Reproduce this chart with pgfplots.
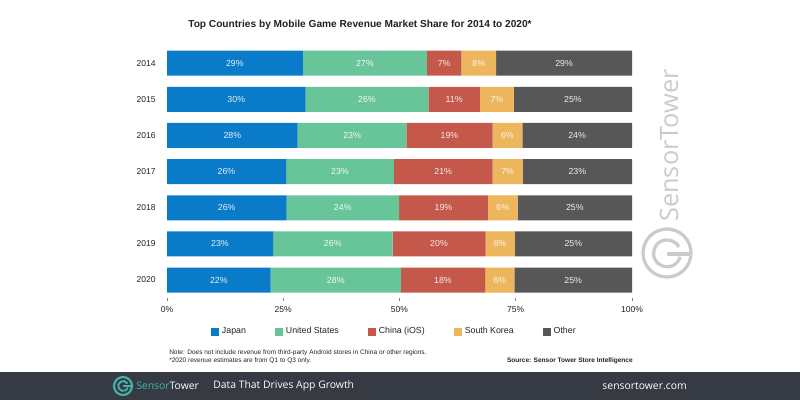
\documentclass[border=0pt]{standalone}
\usepackage{pgfplots}
\pgfplotsset{compat=1.18}
\usepackage{pgfplotstable}
\usepackage{fontspec}
\setmainfont{Liberation Sans}
\newfontfamily\osans{Open Sans}
\definecolor{cJP}{HTML}{0A7BC9}
\definecolor{cUS}{HTML}{68C59A}
\definecolor{cCN}{HTML}{C4584A}
\definecolor{cKR}{HTML}{EDB55C}
\definecolor{cOT}{HTML}{575757}
\definecolor{cFoot}{HTML}{363A42}
\definecolor{cTeal}{HTML}{45B3AC}
\definecolor{cWM}{HTML}{CBCBCB}
\definecolor{cTxt}{HTML}{222222}
\pgfplotstableread{
idx ja jal us usl cn cnl kr krl ot otl
0 29.2 29 26.7 27 7.4 7 7.5 8 29.2 29
1 29.8 30 26.4 26 11.1 11 7.3 7 25.4 25
2 28.1 28 23.4 23 18.5 19 6.4 6 23.6 24
3 25.6 26 23.2 23 21.2 21 6.5 7 23.5 23
4 25.7 26 24.2 24 19.1 19 6.4 6 24.6 25
5 22.8 23 25.7 26 20.0 20 6.3 6 25.2 25
6 22.3 22 28.0 28 18.1 18 6.3 6 25.3 25
}\shares
\begin{document}
\begin{tikzpicture}[x=0.75pt,y=0.75pt]
\useasboundingbox (0,0) rectangle (800,400);
\fill[white] (0,0) rectangle (800,400);
% watermark
\node[rotate=90, anchor=west, inner sep=0, text=cWM, font=\osans\fontsize{19}{22}\selectfont] at (669,178) {SensorTower};
\draw[cWM, line width=2.4pt] (667,147) circle (24);
\draw[cWM, line width=2.4pt] (679,153) arc (28:345:13.5);
\draw[cWM, line width=2.4pt] (667,146) -- (690,146);
\begin{axis}[
  at={(125.25pt,76.4pt)}, anchor=south west,
  scale only axis, width=348.75pt, height=189.8pt,
  xbar stacked, bar width=18.75pt,
  xmin=0, xmax=100, ymin=-0.5, ymax=6.5, y dir=reverse,
  axis line style={draw=none},
  xtick={0,25,50,75,100}, xticklabels={0\%,25\%,50\%,75\%,100\%},
  ytick={0,...,6}, yticklabels={2014,2015,2016,2017,2018,2019,2020},
  xtick pos=bottom, ytick pos=left, tick align=outside,
  major tick length=2pt,
  xtick style={draw=gray, line width=0.5pt},
  ytick style={draw=none},
  ticklabel style={font=\fontsize{6.4}{7}\selectfont, text=cTxt},
  xticklabel style={yshift=-1pt},
  yticklabel style={xshift=-3pt},
  nodes near coords={\pgfplotspointmeta\%},
  point meta=explicit symbolic,
  every node near coord/.append style={font=\fontsize{6.6}{7}\selectfont, text=white, text opacity=0.9, anchor=center},
  legend style={at={(0.49,-0.133)}, anchor=center, draw=none, fill=none, legend columns=5, font=\fontsize{6.6}{8}\selectfont, text=cTxt, /tikz/every even column/.append style={column sep=20pt}},
  legend image code/.code={\fill[#1] (0pt,-3pt) rectangle (6pt,3pt);},
]
\addplot[fill=cJP, draw=none] table[x=ja, y=idx, meta=jal]{\shares};
\addplot[fill=cUS, draw=none] table[x=us, y=idx, meta=usl]{\shares};
\addplot[fill=cCN, draw=none] table[x=cn, y=idx, meta=cnl]{\shares};
\addplot[fill=cKR, draw=none] table[x=kr, y=idx, meta=krl]{\shares};
\addplot[fill=cOT, draw=none] table[x=ot, y=idx, meta=otl]{\shares};
\legend{Japan, United States, China (iOS), South Korea, Other}
\end{axis}
% title
\node[font=\bfseries\fontsize{7.6}{9}\selectfont, text=cTxt] at (360,375) {Top Countries by Mobile Game Revenue Market Share for 2014 to 2020*};
% notes
\node[anchor=west, inner sep=0, font=\fontsize{4.9}{6}\selectfont, text=cTxt] at (169,47) {Note: Does not include revenue from third-party Android stores in China or other regions.};
\node[anchor=west, inner sep=0, font=\fontsize{4.9}{6}\selectfont, text=cTxt] at (169,39) {*2020 revenue estimates are from Q1 to Q3 only.};
\node[anchor=east, inner sep=0, font=\bfseries\fontsize{4.9}{6}\selectfont, text=cTxt] at (633,39) {Source: Sensor Tower Store Intelligence};
% footer
\fill[cFoot] (0,0) rectangle (800,28);
\draw[cTeal, line width=1.6pt] (123,14) circle (9);
\draw[cTeal, line width=1.4pt] (127.5,16.5) arc (30:340:5);
\draw[cTeal, line width=1.4pt] (123,14) -- (131,14);
\node[anchor=west, inner sep=0, font=\osans\fontsize{7.8}{9}\selectfont] at (136,14) {\textcolor{cTeal}{Sensor}\textcolor{white}{Tower}};
\node[anchor=west, inner sep=0, font=\osans\fontsize{7.8}{9}\selectfont, text=white] at (213,14) {Data That Drives App Growth};
\node[anchor=east, inner sep=0, font=\osans\fontsize{7.8}{9}\selectfont, text=white] at (687,14) {sensortower.com};
\end{tikzpicture}
\end{document}
